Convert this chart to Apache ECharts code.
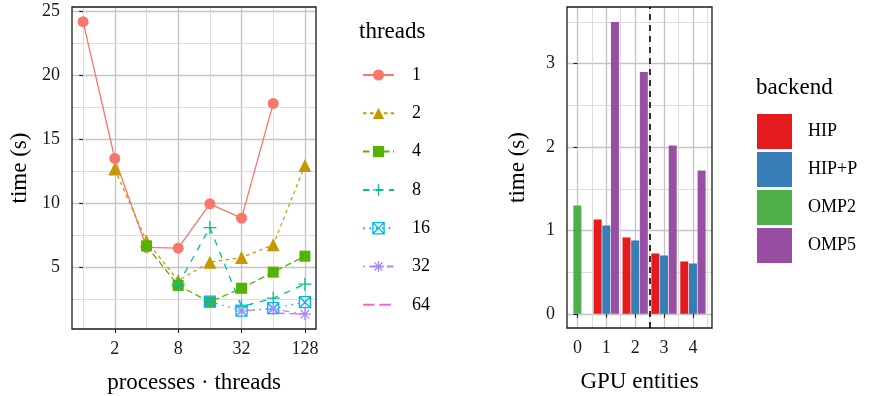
<!DOCTYPE html>
<html>
<head>
<meta charset="utf-8">
<script src="https://cdn.jsdelivr.net/npm/echarts@6/dist/echarts.min.js"></script>
<style>
  html, body { margin: 0; padding: 0; background: #fff; }
  #main { width: 875px; height: 396px; }
</style>
</head>
<body>
<div id="main"></div>
<script>
(function () {
var chart = echarts.init(document.getElementById('main'));

// ---- left panel: time vs processes*threads ----
var procThreads = [1, 2, 4, 8, 16, 32, 64, 128];
var xTickLabels = [2, 8, 32, 128];
var xMinorTicks = [1, 4, 16, 64];
var yTicks = [5, 10, 15, 20, 25];
var yMinorTicks = [2.5, 7.5, 12.5, 17.5, 22.5];

var threadNames = ['1', '2', '4', '8', '16', '32', '64'];
var time1 = [24.22, 13.51, 6.55, 6.49, 9.96, 8.84, 17.82, null];
var time2 = [null, 12.68, 7.05, 3.95, 5.39, 5.75, 6.75, 12.96];
var time4 = [null, null, 6.67, 3.57, 2.28, 3.35, 4.61, 5.86];
var time8 = [null, null, null, 3.65, 8.10, 1.91, 2.57, 3.67];
var time16 = [null, null, null, null, 2.30, 1.60, 1.79, 2.26];
var time32 = [null, null, null, null, null, 1.58, 1.73, 1.32];
var time64 = [null, null, null, null, null, null, 1.40, 1.33];

// ---- right panel: time vs GPU entities ----
var gpuEntities = [0, 1, 2, 3, 4];
var backendNames = ['HIP', 'HIP+P', 'OMP2', 'OMP5'];
var hip = [null, 1.13, 0.916, 0.724, 0.628];
var hipP = [null, 1.06, 0.88, 0.70, 0.604];
var omp2 = [1.30, null, null, null, null];
var omp5 = [null, 3.50, 2.90, 2.02, 1.72];
var gpuTicks = [0, 1, 2, 3, 4];
var gpuMinorTicks = [0.5, 1.5, 2.5, 3.5, 4.5];
var gpuYTicks = [0, 1, 2, 3];
var gpuYMinorTicks = [0.5, 1.5, 2.5, 3.5];

var FONT = 'Liberation Serif';
var lineColors = ['#F8766D', '#C49A00', '#53B400', '#00C094', '#00B6EB', '#A58AFF', '#FB61D7'];
var lineDashes = ['solid', [3.5, 3.5], [6.5, 3.5], [6.5, 6.5], [1.6, 4.8], [1.6, 4.8, 6.4, 4.8], [11.5, 4.8]];
var barColors = ['#E41A1C', '#377EB8', '#4DAF4A', '#984EA3'];

var plusPath = 'path://M5 0L5 10M0 5L10 5';
var boxXPath = 'path://M0 0L10 0L10 10L0 10ZM0 0L10 10M10 0L0 10';
var starPath = 'path://M5 0L5 10M0 5L10 5M1.5 1.5L8.5 8.5M8.5 1.5L1.5 8.5';

var log2 = function (v) { return Math.log(v) / Math.LN2; };
var pairs = function (vals) {
    var out = [];
    vals.forEach(function (v, i) {
        out.push([log2(procThreads[i]), v]);
    });
    return out;
};

var majorLine = { show: true, lineStyle: { color: '#c4c4c4', width: 1.3 } };
var minorLine = { show: true, lineStyle: { color: '#d8d8d8', width: 0.9 } };
var tickStyle = { show: true, length: 4, lineStyle: { color: '#222', width: 1.1 } };
var labelStyle = { color: '#1a1a1a', fontFamily: FONT, fontSize: 18 };
var nameStyle = { color: '#000', fontFamily: FONT, fontSize: 23 };

var lineSeries = [
    { data: time1, symbol: 'circle', size: 11, fill: true },
    { data: time2, symbol: 'triangle', size: 13, fill: true },
    { data: time4, symbol: 'rect', size: 11, fill: true },
    { data: time8, symbol: plusPath, size: 13, fill: false },
    { data: time16, symbol: boxXPath, size: 11, fill: false },
    { data: time32, symbol: starPath, size: 12, fill: false },
    { data: time64, symbol: 'circle', size: 0, fill: true, hide: true }
].map(function (s, i) {
    var col = lineColors[i];
    return {
        name: threadNames[i],
        type: 'line',
        xAxisIndex: 0,
        yAxisIndex: 0,
        data: pairs(s.data),
        symbol: s.symbol,
        symbolSize: s.size,
        showSymbol: !s.hide,
        connectNulls: false,
        animation: false,
        lineStyle: { color: col, width: 1.3, type: lineDashes[i] },
        itemStyle: s.hide ? { color: col, opacity: 0 } :
            (s.fill ? { color: col } : { color: 'none', borderColor: col, borderWidth: 1.3 }),
        z: 3
    };
});

var offsets = [-0.3, 0, 0, 0.3];
var barData = [hip, hipP, omp2, omp5];
var barSeries = barData.map(function (vals, i) {
    var d = [];
    vals.forEach(function (v, k) {
        if (v != null) d.push([gpuEntities[k] + offsets[i], v]);
    });
    var s = {
        name: backendNames[i],
        type: 'bar',
        xAxisIndex: 2,
        yAxisIndex: 2,
        data: d,
        barWidth: 8,
        barGap: '-100%',
        animation: false,
        itemStyle: { color: barColors[i] }
    };
    if (i === 0) {
        s.markLine = {
            silent: true,
            symbol: 'none',
            label: { show: false },
            lineStyle: { color: '#000', width: 1.6, type: [6, 5] },
            data: [{ xAxis: 2.5 }]
        };
    }
    return s;
});

var option = {
    backgroundColor: '#fff',
    animation: false,
    title: [
        { text: 'threads', left: 359, top: 20, padding: 0, textStyle: { fontFamily: FONT, fontSize: 23, fontWeight: 'normal', color: '#000' } },
        { text: 'backend', left: 756, top: 76, padding: 0, textStyle: { fontFamily: FONT, fontSize: 23, fontWeight: 'normal', color: '#000' } }
    ],
    legend: [{
        data: threadNames,
        orient: 'vertical',
        left: 362,
        top: 66,
        padding: 0,
        itemWidth: 31,
        itemHeight: 14,
        itemGap: 20.3,
        itemStyle: { borderWidth: 1.3 },
        textStyle: { fontFamily: FONT, fontSize: 18, color: '#000', padding: [0, 0, 0, 13] },
        selectedMode: false
    }, {
        data: backendNames,
        orient: 'vertical',
        left: 757,
        top: 114,
        padding: 0,
        itemWidth: 35,
        itemHeight: 35,
        itemGap: 3,
        icon: 'rect',
        textStyle: { fontFamily: FONT, fontSize: 18, color: '#000', padding: [0, 0, 0, 11] },
        selectedMode: false
    }],
    grid: [
        { left: 72, top: 7, width: 244, height: 322, outerBoundsMode: 'none', containLabel: false, show: true, borderColor: '#1a1a1a', borderWidth: 1.3, backgroundColor: 'transparent', z: 5 },
        { left: 567, top: 7, width: 145, height: 321, outerBoundsMode: 'none', containLabel: false, show: true, borderColor: '#1a1a1a', borderWidth: 1.3, backgroundColor: 'transparent', z: 5 }
    ],
    xAxis: [{
        gridIndex: 0,
        type: 'value',
        min: -0.35,
        max: 7.35,
        axisLine: { show: false },
        axisTick: Object.assign({ customValues: xTickLabels.map(log2) }, tickStyle),
        axisLabel: Object.assign({
            customValues: xTickLabels.map(log2),
            margin: 11,
            formatter: function (v) { return String(Math.round(Math.pow(2, v))); }
        }, labelStyle),
        splitLine: majorLine,
        name: 'processes \u00b7 threads',
        nameLocation: 'middle',
        nameGap: 42,
        nameTextStyle: nameStyle
    }, {
        gridIndex: 0,
        type: 'value',
        position: 'top',
        min: -0.35,
        max: 7.35,
        axisLine: { show: false },
        axisTick: { show: false, customValues: xMinorTicks.map(log2) },
        axisLabel: { show: false, customValues: xMinorTicks.map(log2) },
        splitLine: minorLine
    }, {
        gridIndex: 1,
        type: 'value',
        min: -0.36,
        max: 4.66,
        axisLine: { show: false },
        axisTick: Object.assign({ customValues: gpuTicks }, tickStyle),
        axisLabel: Object.assign({ customValues: gpuTicks, margin: 11 }, labelStyle),
        splitLine: majorLine,
        name: 'GPU entities',
        nameLocation: 'middle',
        nameGap: 42,
        nameTextStyle: nameStyle
    }, {
        gridIndex: 1,
        type: 'value',
        position: 'top',
        min: -0.36,
        max: 4.66,
        axisLine: { show: false },
        axisTick: { show: false, customValues: gpuMinorTicks },
        axisLabel: { show: false, customValues: gpuMinorTicks },
        splitLine: minorLine
    }],
    yAxis: [{
        gridIndex: 0,
        type: 'value',
        min: 0.16,
        max: 25.37,
        axisLine: { show: false },
        axisTick: Object.assign({ customValues: yTicks }, tickStyle),
        axisLabel: Object.assign({ customValues: yTicks, margin: 12 }, labelStyle),
        splitLine: majorLine,
        name: 'time (s)',
        nameLocation: 'middle',
        nameRotate: 90,
        nameGap: 41,
        nameTextStyle: nameStyle
    }, {
        gridIndex: 0,
        type: 'value',
        position: 'right',
        min: 0.16,
        max: 25.37,
        axisLine: { show: false },
        axisTick: { show: false, customValues: yMinorTicks },
        axisLabel: { show: false, customValues: yMinorTicks },
        splitLine: minorLine
    }, {
        gridIndex: 1,
        type: 'value',
        min: -0.17,
        max: 3.68,
        axisLine: { show: false },
        axisTick: Object.assign({ customValues: gpuYTicks }, tickStyle),
        axisLabel: Object.assign({ customValues: gpuYTicks, margin: 12 }, labelStyle),
        splitLine: majorLine,
        name: 'time (s)',
        nameLocation: 'middle',
        nameRotate: 90,
        nameGap: 38,
        nameTextStyle: nameStyle
    }, {
        gridIndex: 1,
        type: 'value',
        position: 'right',
        min: -0.17,
        max: 3.68,
        axisLine: { show: false },
        axisTick: { show: false, customValues: gpuYMinorTicks },
        axisLabel: { show: false, customValues: gpuYMinorTicks },
        splitLine: minorLine
    }],
    series: lineSeries.concat(barSeries)
};

chart.setOption(option);
})();
</script>
</body>
</html>
